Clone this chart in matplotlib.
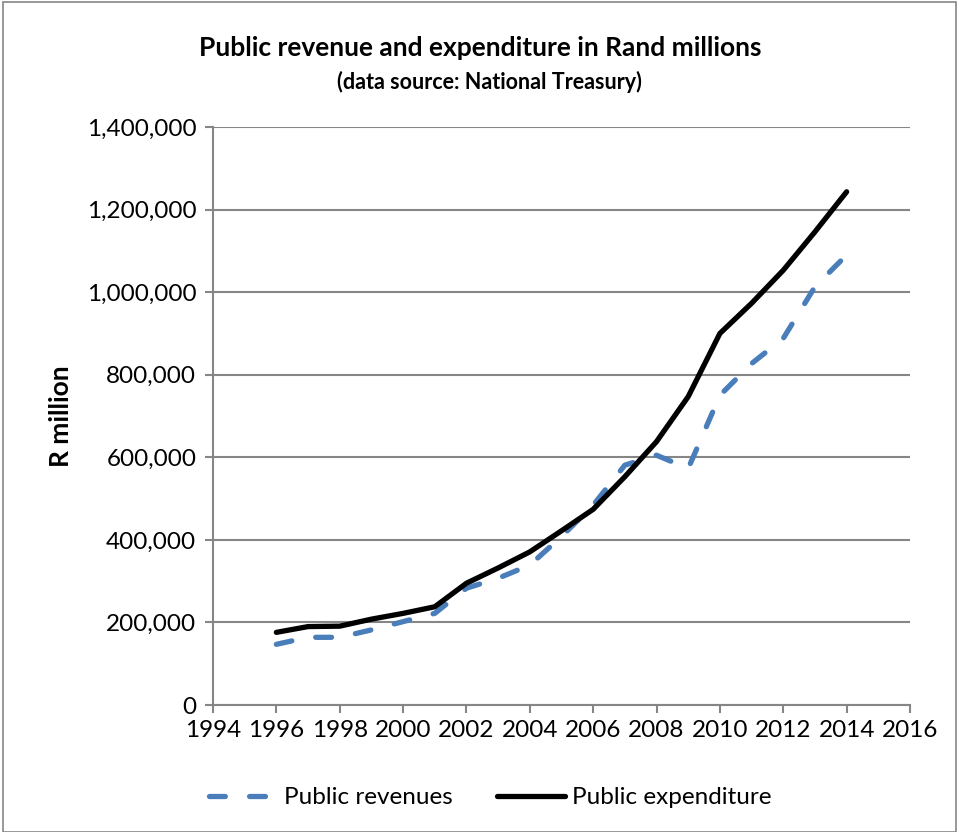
import matplotlib.pyplot as plt
from matplotlib.patches import Rectangle
from matplotlib.ticker import FuncFormatter

plt.rcParams['font.family'] = ['Lato', 'DejaVu Sans']

years = list(range(1996, 2015))
# R million
revenue = [147000, 164000, 164000, 182000, 202000, 222000, 283000, 307000,
           339000, 408000, 484000, 581000, 605000, 573000, 750000, 827000,
           888000, 1013000, 1090000]
expenditure = [176000, 190000, 191000, 208000, 222000, 238000, 295000, 332000,
               371000, 422000, 474000, 553000, 638000, 747000, 900000, 973000,
               1053000, 1146000, 1243000]

fig = plt.figure(figsize=(9.59, 8.32), dpi=100)
ax = fig.add_axes([0.2221, 0.1526, 0.7268, 0.6948])

grey = '#868686'
ax.plot(years, revenue, color='#4a7ebb', lw=3.8, ls=(0, (3.0, 4.6)),
        dash_capstyle='round', label='Public revenues')
ax.plot(years, expenditure, color='black', lw=3.8, solid_capstyle='round',
        label='Public expenditure')

ax.set_xlim(1994, 2016)
ax.set_ylim(0, 1400000)
ax.set_xticks(range(1994, 2017, 2))
ax.set_yticks(range(0, 1400001, 200000))
ax.yaxis.set_major_formatter(FuncFormatter(lambda v, p: f'{int(v):,}'))
ax.grid(axis='y', color=grey, lw=1.5)
ax.set_axisbelow(True)
for s in ['top', 'right']:
    ax.spines[s].set_visible(False)
for s in ['left', 'bottom']:
    ax.spines[s].set_color(grey)
    ax.spines[s].set_linewidth(1.5)
ax.tick_params(axis='x', length=6, width=1.5, color=grey, labelsize=17.5, pad=5)
ax.tick_params(axis='y', length=6, width=1.5, color=grey, labelsize=17.5, pad=6)

ax.set_ylabel('R million', fontsize=19, fontweight='bold', labelpad=10)

fig.text(0.501, 0.942, 'Public revenue and expenditure in Rand millions',
         ha='center', va='center', fontsize=19, fontweight='bold')
fig.text(0.510, 0.902, '(data source: National Treasury)',
         ha='center', va='center', fontsize=15.5, fontweight='bold')

fig.legend(loc='center', bbox_to_anchor=(0.511, 0.041), ncol=2, frameon=False,
           fontsize=17.5, handlelength=2.8, columnspacing=1.8,
           handletextpad=0.3)

fig.add_artist(Rectangle((0.003, 0.0), 0.994, 0.998, transform=fig.transFigure,
                         fill=False, edgecolor=grey, lw=1.2))

fig.savefig('out.png', dpi=100)
